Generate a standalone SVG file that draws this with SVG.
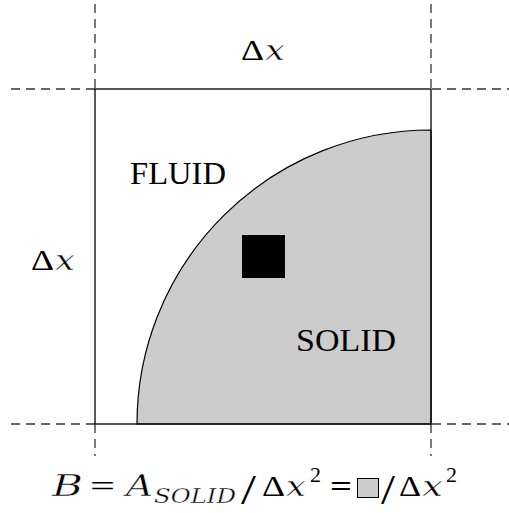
<svg xmlns="http://www.w3.org/2000/svg" width="509" height="513" viewBox="0 0 509 513">
<style>
.dash{stroke:#333;stroke-width:1.3;stroke-dasharray:9 6;fill:none}
.t{font-family:"Liberation Serif","Times New Roman",serif;fill:#000}
.i{font-family:"DejaVu Serif","Liberation Serif",serif;font-style:italic;fill:#000;stroke:#fff;stroke-width:0.45}
</style>
<rect width="509" height="513" fill="#fff"/>
<g id="gridlines">
<line class="dash" x1="11" y1="89" x2="95" y2="89"/>
<line class="dash" x1="432" y1="89" x2="509" y2="89"/>
<line class="dash" x1="11" y1="424" x2="95" y2="424"/>
<line class="dash" x1="432" y1="424" x2="509" y2="424"/>
<line class="dash" x1="95" y1="4" x2="95" y2="89"/>
<line class="dash" x1="431" y1="4" x2="431" y2="89"/>
<line class="dash" x1="95" y1="424" x2="95" y2="456"/>
<line class="dash" x1="431" y1="424" x2="431" y2="456"/>
</g>
<g id="solid">
<path d="M137,424 A294,294 0 0 1 431,130 L431,424 Z" fill="#cccccc" stroke="#000" stroke-width="1.2"/>
</g>
<g id="cell">
<rect x="95" y="89" width="336" height="335" fill="none" stroke="#000" stroke-width="1.3"/>
</g>
<g id="particle">
<rect x="242" y="235" width="43" height="43" fill="#000"/>
</g>
<g id="labels">
<text class="t" x="130" y="184" font-size="31" textLength="96" lengthAdjust="spacingAndGlyphs">FLUID</text>
<text class="t" x="296" y="351" font-size="31" textLength="100" lengthAdjust="spacingAndGlyphs">SOLID</text>
<text class="t" x="241" y="60" font-size="30" textLength="23" lengthAdjust="spacingAndGlyphs">Δ</text>
<text class="i" x="265" y="60" font-size="28" textLength="20" lengthAdjust="spacingAndGlyphs">x</text>
<text class="t" x="31" y="270" font-size="30" textLength="23" lengthAdjust="spacingAndGlyphs">Δ</text>
<text class="i" x="55" y="270" font-size="28" textLength="20" lengthAdjust="spacingAndGlyphs">x</text>
</g>
<g id="formula">
<text class="i" x="52" y="496" font-size="30" textLength="31" lengthAdjust="spacingAndGlyphs">B</text>
<text class="t" x="90" y="496" font-size="30" textLength="25" lengthAdjust="spacingAndGlyphs">=</text>
<text class="i" x="126" y="496" font-size="30" textLength="27" lengthAdjust="spacingAndGlyphs">A</text>
<text class="i" x="154" y="503" font-size="20" textLength="82" lengthAdjust="spacingAndGlyphs" style="stroke-width:0.35">SOLID</text>
<text class="t" x="241" y="504" font-size="42" textLength="15" lengthAdjust="spacingAndGlyphs">/</text>
<text class="t" x="262" y="496" font-size="30" textLength="23" lengthAdjust="spacingAndGlyphs">Δ</text>
<text class="i" x="286" y="496" font-size="28" textLength="20" lengthAdjust="spacingAndGlyphs">x</text>
<text class="t" x="310" y="482" font-size="22" textLength="11" lengthAdjust="spacingAndGlyphs">2</text>
<text class="t" x="330" y="496" font-size="30" font-weight="bold" textLength="22" lengthAdjust="spacingAndGlyphs">=</text>
<rect x="357.5" y="478.5" width="21" height="19" fill="#cccccc" stroke="#000" stroke-width="1"/>
<text class="t" x="381" y="504" font-size="42" textLength="14" lengthAdjust="spacingAndGlyphs">/</text>
<text class="t" x="399" y="496" font-size="30" textLength="22" lengthAdjust="spacingAndGlyphs">Δ</text>
<text class="i" x="422" y="496" font-size="28" textLength="21" lengthAdjust="spacingAndGlyphs">x</text>
<text class="t" x="446" y="482" font-size="22" textLength="11" lengthAdjust="spacingAndGlyphs">2</text>
</g>
</svg>
